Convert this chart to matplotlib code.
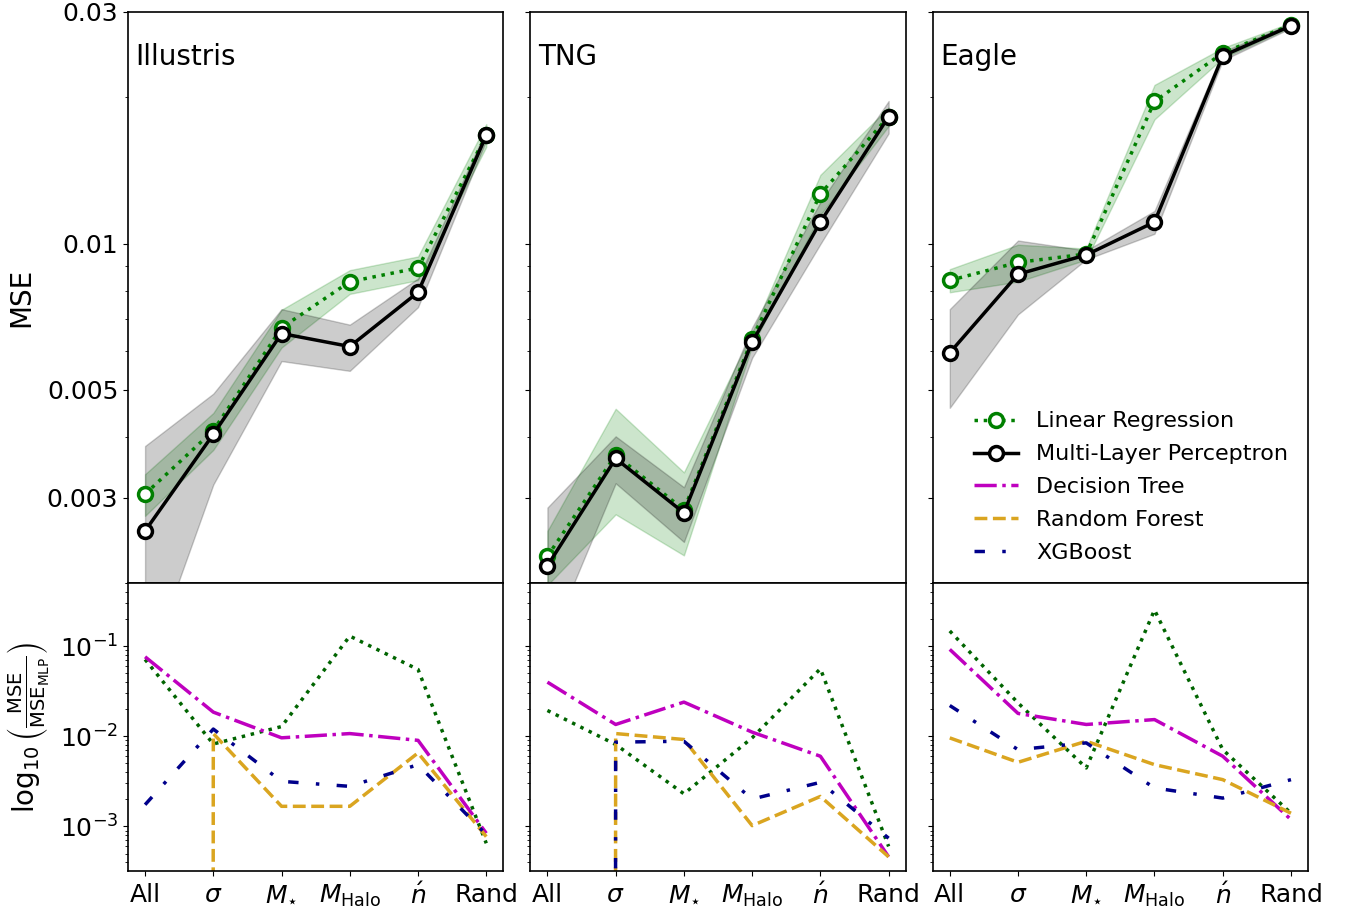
import numpy as np
import matplotlib
matplotlib.use("Agg")
import matplotlib.pyplot as plt
from matplotlib.gridspec import GridSpec
from matplotlib.ticker import FixedLocator, FixedFormatter, NullFormatter, LogLocator

# ---------------- data ----------------
categories = ["All", r"$\sigma$", r"$M_{\star}$", r"$M_{\rm Halo}$", r"$\acute{n}$", "Rand"]
sims = ["Illustris", "TNG", "Eagle"]

# top panels: MSE mean and std
illustris_lr_mean = [0.00305, 0.00412, 0.00671, 0.00835, 0.00891, 0.01673]
illustris_lr_std = [0.00030, 0.00036, 0.00060, 0.00047, 0.00050, 0.00090]
illustris_mlp_mean = [0.00256, 0.00405, 0.00653, 0.00614, 0.00794, 0.01673]
illustris_mlp_std = [0.00127, 0.00086, 0.00080, 0.00067, 0.00054, 0.00040]

tng_lr_mean = [0.00227, 0.00367, 0.00283, 0.00636, 0.01266, 0.01827]
tng_lr_std = [0.00029, 0.00090, 0.00055, 0.00020, 0.00120, 0.00080]
tng_mlp_mean = [0.00217, 0.00361, 0.00279, 0.00627, 0.01108, 0.01827]
tng_mlp_std = [0.00069, 0.00040, 0.00036, 0.00045, 0.00110, 0.00140]

eagle_lr_mean = [0.00840, 0.00915, 0.00952, 0.01963, 0.02470, 0.02823]
eagle_lr_std = [0.00046, 0.00080, 0.00025, 0.00160, 0.00060, 0.00030]
eagle_mlp_mean = [0.00596, 0.00865, 0.00948, 0.01108, 0.02436, 0.02810]
eagle_mlp_std = [0.00137, 0.00150, 0.00020, 0.00060, 0.00050, 0.00030]

# bottom panels: log10(MSE / MSE_MLP)
illustris_ratio_lr = [0.071, 0.0082, 0.0128, 0.129, 0.055, 0.00065]
illustris_ratio_dt = [0.076, 0.0185, 0.0096, 0.0107, 0.0090, 0.00084]
illustris_ratio_rf = [-0.003, 0.0107, 0.00167, 0.00167, 0.00653, 0.00077]
illustris_ratio_xgb = [0.00174, 0.0120, 0.00316, 0.00278, 0.00484, 0.00081]

tng_ratio_lr = [0.0193, 0.0081, 0.0023, 0.0096, 0.056, 0.00060]
tng_ratio_dt = [0.0398, 0.0135, 0.0239, 0.0111, 0.0060, 0.00046]
tng_ratio_rf = [-0.003, 0.0107, 0.0092, 0.00102, 0.00215, 0.00046]
tng_ratio_xgb = [-0.003, 0.0086, 0.0088, 0.00201, 0.00308, 0.00074]

eagle_ratio_lr = [0.147, 0.0234, 0.00445, 0.251, 0.0071, 0.0014]
eagle_ratio_dt = [0.0918, 0.0179, 0.0135, 0.0153, 0.0060, 0.00119]
eagle_ratio_rf = [0.00958, 0.00514, 0.0088, 0.00484, 0.0033, 0.0014]
eagle_ratio_xgb = [0.0219, 0.0071, 0.00844, 0.00267, 0.00206, 0.0033]

top_ticks = [0.003, 0.005, 0.01, 0.03]
top_ticklabels = ["0.003", "0.005", "0.01", "0.03"]

top_data = {
    "Illustris": (illustris_lr_mean, illustris_lr_std, illustris_mlp_mean, illustris_mlp_std),
    "TNG": (tng_lr_mean, tng_lr_std, tng_mlp_mean, tng_mlp_std),
    "Eagle": (eagle_lr_mean, eagle_lr_std, eagle_mlp_mean, eagle_mlp_std),
}
bottom_data = {
    "Illustris": (illustris_ratio_lr, illustris_ratio_dt, illustris_ratio_rf, illustris_ratio_xgb),
    "TNG": (tng_ratio_lr, tng_ratio_dt, tng_ratio_rf, tng_ratio_xgb),
    "Eagle": (eagle_ratio_lr, eagle_ratio_dt, eagle_ratio_rf, eagle_ratio_xgb),
}

# ---------------- figure ----------------
plt.rcParams["font.family"] = ["DejaVu Sans"]
plt.rcParams["mathtext.fontset"] = "dejavusans"
plt.rcParams["axes.linewidth"] = 1.2

fig = plt.figure(figsize=(13.46, 9.16), dpi=100)
gs = GridSpec(2, 3, figure=fig, height_ratios=[571, 288], hspace=0, wspace=0.072,
              left=0.0951, right=0.9718, top=0.9869, bottom=0.0491)

x = np.arange(len(categories))
lw = 2.5

for j, sim in enumerate(sims):
    ax_t = fig.add_subplot(gs[0, j])
    ax_b = fig.add_subplot(gs[1, j])
    lr_m, lr_s, mlp_m, mlp_s = [np.array(a) for a in top_data[sim]]

    ax_t.fill_between(x, lr_m - lr_s, lr_m + lr_s, color="green", alpha=0.2)
    ax_t.fill_between(x, mlp_m - mlp_s, mlp_m + mlp_s, color="k", alpha=0.2)
    l_lr, = ax_t.plot(x, lr_m, ls=":", color="green", lw=lw, marker="o", ms=10,
                      mfc="white", mec="green", mew=2.5, label="Linear Regression")
    l_mlp, = ax_t.plot(x, mlp_m, ls="-", color="k", lw=lw, marker="o", ms=10,
                       mfc="white", mec="k", mew=2.5, label="Multi-Layer Perceptron")
    ax_t.set_yscale("log")
    ax_t.set_ylim(0.002, 0.03)
    ax_t.set_xlim(-0.25, 5.25)
    ax_t.yaxis.set_major_locator(FixedLocator(top_ticks))
    ax_t.yaxis.set_minor_locator(LogLocator(base=10, subs=np.arange(2, 10)))
    ax_t.yaxis.set_minor_formatter(NullFormatter())
    if j == 0:
        ax_t.yaxis.set_major_formatter(FixedFormatter(top_ticklabels))
        ax_t.set_ylabel("MSE", fontsize=20)
        ax_t.yaxis.set_label_coords(-0.248, 0.5)
    else:
        ax_t.yaxis.set_major_formatter(NullFormatter())
    ax_t.set_xticks([])
    ax_t.tick_params(axis="y", labelsize=18)
    ax_t.text(0.02, 0.921, sim, transform=ax_t.transAxes, fontsize=20,
              ha="left", va="center")

    r_lr, r_dt, r_rf, r_xgb = bottom_data[sim]
    b_lr, = ax_b.plot(x, r_lr, ls=":", color="darkgreen", lw=lw, label="Linear Regression")
    b_dt, = ax_b.plot(x, r_dt, ls="-.", color="m", lw=lw, label="Decision Tree")
    b_rf, = ax_b.plot(x, r_rf, ls="--", color="goldenrod", lw=lw, label="Random Forest")
    b_xgb, = ax_b.plot(x, r_xgb, ls=(0, (3, 5, 1, 5)), color="darkblue", lw=lw, label="XGBoost")
    ax_b.set_yscale("log")
    ax_b.set_ylim(3.2e-4, 0.5)
    ax_b.set_xlim(-0.25, 5.25)
    ax_b.set_xticks(x)
    ax_b.set_xticklabels(categories)
    ax_b.tick_params(axis="both", labelsize=18)
    ax_b.tick_params(axis="x", pad=5)
    ax_b.yaxis.set_minor_formatter(NullFormatter())
    if j == 0:
        ax_b.set_ylabel(r"$\log_{10}\left(\frac{\rm MSE}{\rm MSE_{MLP}}\right)$", fontsize=20)
        ax_b.yaxis.set_label_coords(-0.205, 0.5)
    else:
        ax_b.yaxis.set_major_formatter(NullFormatter())

    if sim == "Eagle":
        handles = [l_lr, l_mlp, b_dt, b_rf, b_xgb]
        ax_t.legend(handles=handles, loc="lower right", frameon=False, fontsize=16,
                    labelspacing=0.58)

fig.savefig("out.png", dpi=100)
